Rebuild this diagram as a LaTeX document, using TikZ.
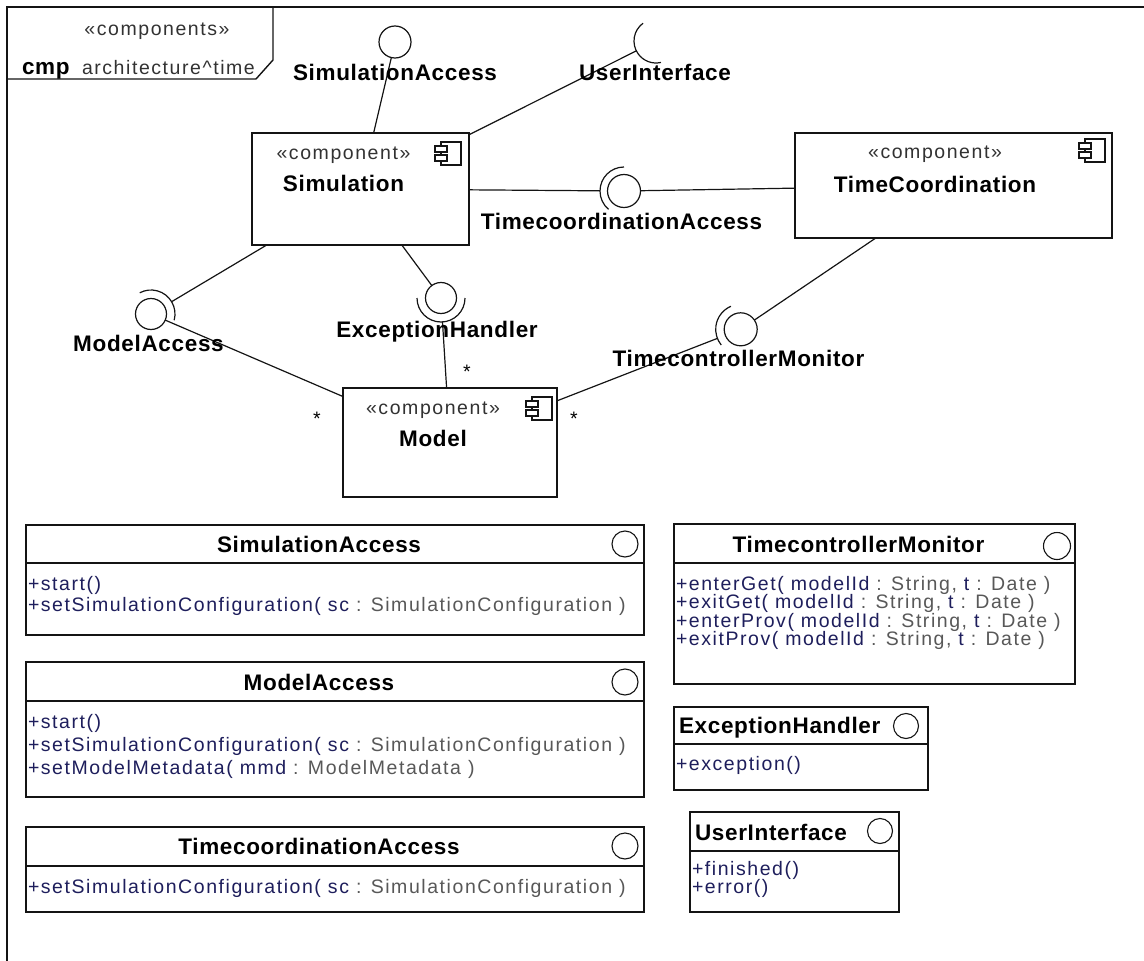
\documentclass[tikz,border=0pt]{standalone}
\usepackage{fontspec}
\setmainfont{Liberation Sans}
\newfontfamily\regf[LetterSpace=8]{Liberation Sans}
\newfontfamily\bldf[LetterSpace=3]{Liberation Sans}

\definecolor{opcol}{RGB}{30,30,92}
\definecolor{tycol}{RGB}{88,88,88}
\definecolor{stcol}{RGB}{50,50,50}
\definecolor{inkcol}{RGB}{20,20,20}

\newcommand{\op}[1]{\textcolor{opcol}{#1}}
\newcommand{\ty}[1]{\textcolor{tycol}{#1}}

% UML component glyph, top-left corner at (#1,#2)
\newcommand{\cmpicon}[2]{%
  \draw[iconline] (#1+6,#2) rectangle (#1+26,#2+23);
  \draw[iconline, fill=white] (#1,#2+4) rectangle (#1+12,#2+10);
  \draw[iconline, fill=white] (#1,#2+13) rectangle (#1+12,#2+19);
}

\tikzset{
  every node/.style={inner sep=0pt, outer sep=0pt},
  rtxt/.style={font=\regf\fontsize{19.5}{19.5}\selectfont},
  btxt/.style={font=\bldf\bfseries\fontsize{22.5}{22.5}\selectfont, text=black},
  umlbox/.style={draw=inkcol, line width=1.3pt, fill=white, rectangle},
  boxline/.style={draw=inkcol, line width=1.3pt},
  frameline/.style={draw=inkcol, line width=1.4pt},
  conn/.style={draw=inkcol, line width=1.2pt},
  iconline/.style={draw=inkcol, line width=1.1pt},
  ball/.style={circle, draw=inkcol, line width=1.2pt, fill=white},
  sock/.style={circle},
  iconball/.style={circle, draw=inkcol, line width=1.1pt, fill=white},
}

\begin{document}
\begin{tikzpicture}[x=1pt,y=-1pt]
\useasboundingbox (0,0) rectangle (1144,961);

% diagram frame and its name tab
\draw[frameline] (7,961) -- (7,7) -- (1144,7);
\draw[frameline] (7,79) -- (256,79) -- (273,60) -- (273,7);
\node[rtxt, anchor=base, text=stcol] (frameStereo) at (157,35) {«components»};
\node[btxt, anchor=base west] (frameKind) at (22,74) {cmp};
\node[rtxt, anchor=base west, text=stcol] (frameName) at (82,74) {architecture\textasciicircum time};

% components
\node[umlbox, minimum width=217pt, minimum height=112pt] (sim) at (360.5,189) {};
\node[umlbox, minimum width=317pt, minimum height=105pt] (tc) at (953.5,185.5) {};
\node[umlbox, minimum width=214pt, minimum height=109pt] (model) at (450,442.5) {};

\node[rtxt, anchor=base, text=stcol] (simSt) at (343.5,159) {«component»};
\node[btxt, anchor=base] (simName) at (343.5,191.5) {Simulation};
\node[rtxt, anchor=base, text=stcol] (tcSt) at (935,158) {«component»};
\node[btxt, anchor=base] (tcName) at (935,192) {TimeCoordination};
\node[rtxt, anchor=base, text=stcol] (modelSt) at (433,414) {«component»};
\node[btxt, anchor=base] (modelName) at (433,446) {Model};

\cmpicon{435}{142}
\cmpicon{1079}{139}
\cmpicon{526}{397}

% provided (ball) and required (socket) ends
\node[sock, minimum size=44pt] (uiSock) at (656,41) {};
\node[sock, minimum size=48pt] (tcaSock) at (624,191) {};
\node[sock, minimum size=48pt] (maSock) at (151,314) {};
\node[sock, minimum size=48pt] (ehSock) at (441,298) {};
\node[sock, minimum size=50pt] (tcmSock) at (740.7,329.3) {};

% connectors
\draw[conn] (sim) -- (uiSock);
\draw[conn] (sim) -- (tcaSock);
\draw[conn] (sim) -- (maSock);
\draw[conn] (model) -- (ehSock);
\draw[conn] (model) -- (tcmSock);

\node[ball, minimum size=32pt] (saBall) at (395,42) {};
\node[ball, minimum size=33pt] (tcaBall) at (624,191) {};
\node[ball, minimum size=31pt] (maBall) at (151,314) {};
\node[ball, minimum size=31pt] (ehBall) at (441,298) {};
\node[ball, minimum size=33pt] (tcmBall) at (740.7,329.3) {};

\draw[conn] (sim) -- (saBall);
\draw[conn] (tc) -- (tcaBall);
\draw[conn] (model) -- (maBall);
\draw[conn] (sim) -- (ehBall);
\draw[conn] (tc) -- (tcmBall);

% socket arcs
\draw[conn] ([shift={(126:22pt)}]uiSock.center) arc[start angle=126, end angle=283, radius=22pt];
\draw[conn] ([shift={(-15:24pt)}]maSock.center) arc[start angle=-15, end angle=118, radius=24pt];
\draw[conn] ([shift={(180:24pt)}]ehSock.center) arc[start angle=180, end angle=360, radius=24pt];
\draw[conn] ([shift={(90:24pt)}]tcaSock.center) arc[start angle=90, end angle=230, radius=24pt];
\draw[conn] ([shift={(113:25pt)}]tcmSock.center) arc[start angle=113, end angle=219, radius=25pt];

% interface labels
\node[btxt, anchor=base] (saLbl) at (395,80) {SimulationAccess};
\node[btxt, anchor=base] (uiLbl) at (655,80) {UserInterface};
\node[btxt, anchor=base] (tcaLbl) at (621.5,229) {TimecoordinationAccess};
\node[btxt, anchor=base] (maLbl) at (148.5,351) {ModelAccess};
\node[btxt, anchor=base] (ehLbl) at (437,337) {ExceptionHandler};
\node[btxt, anchor=base] (tcmLbl) at (738.5,366) {TimecontrollerMonitor};

% multiplicities
\node[rtxt, anchor=base] (multA) at (317,425) {*};
\node[rtxt, anchor=base] (multB) at (467,378) {*};
\node[rtxt, anchor=base] (multC) at (574,425) {*};

% interface SimulationAccess
\node[umlbox, minimum width=618pt, minimum height=110pt] (saBox) at (335,580) {};
\draw[boxline] ([yshift=-38pt]saBox.north west) -- ([yshift=-38pt]saBox.north east);
\node[btxt, anchor=base] (saHead) at (319,552) {SimulationAccess};
\node[iconball, minimum size=26pt] (saIcon) at (625,544) {};
\node[rtxt, anchor=base west] (saOp1) at (28,590) {\op{+start()}};
\node[rtxt, anchor=base west] (saOp2) at (28,611) {\op{+setSimulationConfiguration( sc} \ty{: SimulationConfiguration )}};

% interface ModelAccess
\node[umlbox, minimum width=618pt, minimum height=135pt] (maBox) at (335,729.5) {};
\draw[boxline] ([yshift=-39pt]maBox.north west) -- ([yshift=-39pt]maBox.north east);
\node[btxt, anchor=base] (maHead) at (319,690) {ModelAccess};
\node[iconball, minimum size=26pt] (maIcon) at (625,682) {};
\node[rtxt, anchor=base west] (maOp1) at (28,728) {\op{+start()}};
\node[rtxt, anchor=base west] (maOp2) at (28,751) {\op{+setSimulationConfiguration( sc} \ty{: SimulationConfiguration )}};
\node[rtxt, anchor=base west] (maOp3) at (28,774) {\op{+setModelMetadata( mmd} \ty{: ModelMetadata )}};

% interface TimecoordinationAccess
\node[umlbox, minimum width=618pt, minimum height=85pt] (tcaBox) at (335,869.5) {};
\draw[boxline] ([yshift=-39pt]tcaBox.north west) -- ([yshift=-39pt]tcaBox.north east);
\node[btxt, anchor=base] (tcaHead) at (319,854) {TimecoordinationAccess};
\node[iconball, minimum size=26pt] (tcaIcon) at (625,846) {};
\node[rtxt, anchor=base west] (tcaOp1) at (28,893) {\op{+setSimulationConfiguration( sc} \ty{: SimulationConfiguration )}};

% interface TimecontrollerMonitor
\node[umlbox, minimum width=401pt, minimum height=160pt] (tcmBox) at (874.5,604) {};
\draw[boxline] ([yshift=-39pt]tcmBox.north west) -- ([yshift=-39pt]tcmBox.north east);
\node[btxt, anchor=base] (tcmHead) at (858.5,552) {TimecontrollerMonitor};
\node[iconball, minimum size=27pt] (tcmIcon) at (1057,546) {};
\node[rtxt, anchor=base west] (tcmOp1) at (676,590) {\op{+enterGet( modelId} \ty{: String,} \op{t} \ty{: Date )}};
\node[rtxt, anchor=base west] (tcmOp2) at (676,608.5) {\op{+exitGet( modelId} \ty{: String,} \op{t} \ty{: Date )}};
\node[rtxt, anchor=base west] (tcmOp3) at (676,627) {\op{+enterProv( modelId} \ty{: String,} \op{t} \ty{: Date )}};
\node[rtxt, anchor=base west] (tcmOp4) at (676,645.5) {\op{+exitProv( modelId} \ty{: String,} \op{t} \ty{: Date )}};

% interface ExceptionHandler
\node[umlbox, minimum width=254pt, minimum height=83pt] (ehBox) at (801,748.5) {};
\draw[boxline] ([yshift=-37pt]ehBox.north west) -- ([yshift=-37pt]ehBox.north east);
\node[btxt, anchor=base west] (ehHead) at (679,733) {ExceptionHandler};
\node[iconball, minimum size=25pt] (ehIcon) at (906,726) {};
\node[rtxt, anchor=base west] (ehOp1) at (676,770) {\op{+exception()}};

% interface UserInterface
\node[umlbox, minimum width=209pt, minimum height=100pt] (uiBox) at (794.5,862) {};
\draw[boxline] ([yshift=-39pt]uiBox.north west) -- ([yshift=-39pt]uiBox.north east);
\node[btxt, anchor=base west] (uiHead) at (695,840) {UserInterface};
\node[iconball, minimum size=25pt] (uiIcon) at (880,831) {};
\node[rtxt, anchor=base west] (uiOp1) at (692,875) {\op{+finished()}};
\node[rtxt, anchor=base west] (uiOp2) at (692,893) {\op{+error()}};
\end{tikzpicture}
\end{document}
